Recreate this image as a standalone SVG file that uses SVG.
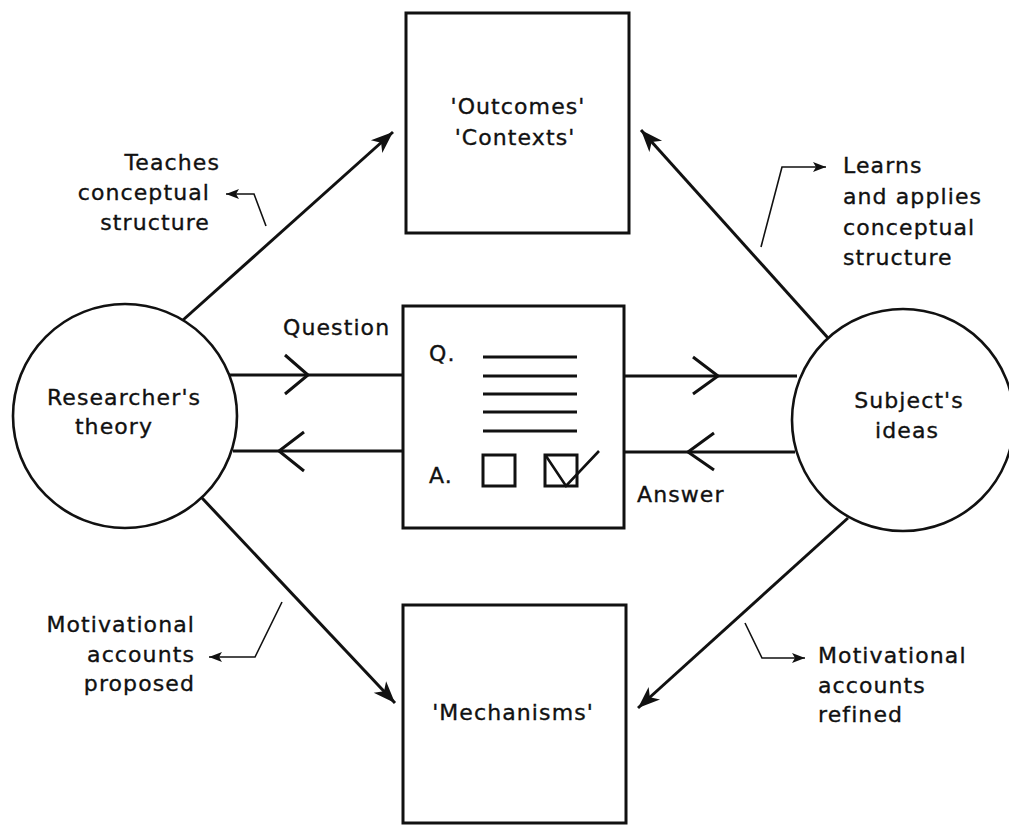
<svg xmlns="http://www.w3.org/2000/svg" width="1009" height="825" viewBox="0 0 1009 825">
<style>
text{font-family:"DejaVu Sans","Liberation Sans",sans-serif;font-size:22px;fill:#111;stroke:#111;stroke-width:0.35;letter-spacing:1.1px}
.box{fill:none;stroke:#111;stroke-width:3}
.circ{fill:none;stroke:#111;stroke-width:2.6}
.main{fill:none;stroke:#111;stroke-width:3}
.thin{fill:none;stroke:#111;stroke-width:1.6}
.chev{fill:none;stroke:#111;stroke-width:3}
.m{text-anchor:middle}
.e{text-anchor:end}
</style>
<defs>
<marker id="big" markerUnits="userSpaceOnUse" viewBox="-24 -10 26 20" refX="0" refY="0" markerWidth="26" markerHeight="20" orient="auto">
<path d="M0,0 L-22,-8.5 L-16,0 L-22,8.5 Z" fill="#111"/>
</marker>
<marker id="small" markerUnits="userSpaceOnUse" viewBox="-14 -6 15 12" refX="0" refY="0" markerWidth="15" markerHeight="12" orient="auto">
<path d="M0,0 L-13,-5 L-10,0 L-13,5 Z" fill="#111"/>
</marker>
</defs>

<g id="outcomes">
<rect class="box" x="406" y="13" width="223" height="220"/>
<text class="m" x="518" y="114">'Outcomes'</text>
<text class="m" x="515" y="145">'Contexts'</text>
</g>

<g id="questionnaire">
<rect class="box" x="403" y="306" width="221" height="222"/>
<text x="429" y="361">Q.</text>
<g stroke="#111" stroke-width="3">
<line x1="483" y1="357" x2="577" y2="357"/>
<line x1="483" y1="376" x2="577" y2="376"/>
<line x1="483" y1="394" x2="577" y2="394"/>
<line x1="483" y1="412" x2="577" y2="412"/>
<line x1="483" y1="431" x2="577" y2="431"/>
</g>
<text x="429" y="483">A.</text>
<rect class="box" x="483" y="455" width="32" height="31" stroke-width="2.6"/>
<rect class="box" x="545" y="455" width="32" height="31" stroke-width="2.6"/>
<path d="M546,456 L566,486 L599,451" fill="none" stroke="#111" stroke-width="2.6"/>
</g>

<g id="mechanisms">
<rect class="box" x="403" y="605" width="223" height="218"/>
<text class="m" x="513" y="720">'Mechanisms'</text>
</g>

<g id="researcher">
<circle class="circ" cx="125" cy="416" r="112"/>
<text class="m" x="124" y="405">Researcher's</text>
<text class="m" x="114" y="434">theory</text>
</g>

<g id="subject">
<circle class="circ" cx="903" cy="420" r="111"/>
<text class="m" x="909" y="408">Subject's</text>
<text class="m" x="907" y="438">ideas</text>
</g>

<g id="connectors">
<line class="main" x1="183" y1="320" x2="393" y2="132" marker-end="url(#big)"/>
<line class="main" x1="828" y1="338" x2="641" y2="130" marker-end="url(#big)"/>
<line class="main" x1="202" y1="498" x2="395" y2="703" marker-end="url(#big)"/>
<line class="main" x1="848" y1="518" x2="638" y2="708" marker-end="url(#big)"/>

<line class="main" x1="229" y1="375" x2="403" y2="375"/>
<path class="chev" d="M285,355 L308,375 L285,394"/>
<line class="main" x1="233" y1="451" x2="403" y2="451"/>
<path class="chev" d="M304,432 L279,451 L304,471"/>

<line class="main" x1="624" y1="376" x2="797" y2="376"/>
<path class="chev" d="M693,357 L718,376 L693,394"/>
<line class="main" x1="624" y1="452" x2="795" y2="452"/>
<path class="chev" d="M714,433 L688,452 L714,470"/>

<path class="thin" d="M266,226 L254,194 L226,194" marker-end="url(#small)"/>
<path class="thin" d="M761,247 L782,167 L826,167" marker-end="url(#small)"/>
<path class="thin" d="M282,602 L255,657 L209,657" marker-end="url(#small)"/>
<path class="thin" d="M745,623 L762,658 L805,658" marker-end="url(#small)"/>
</g>

<g id="labels">
<text x="283" y="335">Question</text>
<text x="637" y="502">Answer</text>

<text class="e" x="220" y="170">Teaches</text>
<text class="e" x="210" y="200">conceptual</text>
<text class="e" x="210" y="230">structure</text>

<text x="843" y="173">Learns</text>
<text x="843" y="204">and applies</text>
<text x="843" y="235">conceptual</text>
<text x="843" y="265">structure</text>

<text class="e" x="195" y="632">Motivational</text>
<text class="e" x="195" y="662">accounts</text>
<text class="e" x="195" y="691">proposed</text>

<text x="818" y="663">Motivational</text>
<text x="818" y="693">accounts</text>
<text x="818" y="722">refined</text>
</g>
</svg>
